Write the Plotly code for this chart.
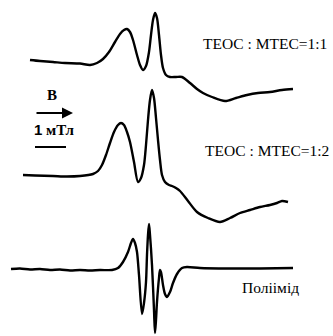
import plotly.graph_objects as go

# EPR spectra: field (a.u., 31 units = 1 mT) and signal (a.u.)
field_1 = [30, 40, 53, 65, 80, 90, 97, 103, 109, 115, 120, 124, 127, 130, 133, 137, 140, 143, 146, 149, 151, 153, 155, 157, 159, 161, 163, 166, 170, 176, 182, 190, 197, 203, 212, 225, 236, 247, 258, 270, 282, 293]
signal_1 = [0, -1, -2, -3, -3.5, -5, -3, 1, 8, 18, 26, 30, 31, 28, 20, 5, -5, -10, -6, 8, 25, 40, 47, 42, 25, 5, -8, -15, -17, -17, -17, -23, -29, -33, -37, -41, -38, -35, -33, -32, -30, -29]

field_2 = [23, 35, 53, 67, 80, 93, 98, 102, 106, 110, 114, 118, 121, 124, 127, 130, 134, 138, 141, 144, 146, 148, 150, 152, 154, 156, 158, 160, 162, 165, 169, 172, 176, 180, 188, 197, 208, 220, 230, 240, 250, 260, 270, 277, 282, 288]
signal_2 = [0, -0.5, -1, -1.5, -1, 1, 4, 10, 20, 32, 43, 50, 52, 50, 43, 33, 13, -7, -3, 10, 30, 55, 75, 85, 77, 57, 35, 15, 0, -7, -10, -11, -13, -16, -26, -37, -43, -47, -43, -38, -35, -32, -30, -28, -26, -27]

field_3 = [11, 20, 30, 40, 50, 60, 70, 80, 90, 100, 112, 118, 123, 128, 131, 133, 135, 137, 139, 142, 144, 146, 147, 148, 149, 150, 152, 154, 155, 156, 157, 159, 160, 161, 163, 165, 167, 170, 173, 177, 182, 187, 200, 230, 260, 293]
signal_3 = [0, 0.5, -0.5, 0, -1, -0.5, -1.5, -1, -1.5, -1, -1, 1, 7, 17, 26, 30, 26, 17, -6, -45, -34, -13, 14, 34, 45, 34, 4, -41, -64, -51, -33, -9, -1, -3, -16, -25, -28, -23, -14, -5, 1, 2, 1, 0.5, 0.5, 1]

baselines = [-60, -175, -269]
labels = ["ТЕОС : МТЕС=1:1", "ТЕОС : МТЕС=1:2", "Поліімід"]
label_pos = [(201, -43), (203, -150), (240, -287)]

fig = go.Figure()
for f, s, b in zip([field_1, field_2, field_3], [signal_1, signal_2, signal_3], baselines):
    fig.add_trace(go.Scatter(x=f, y=[v + b for v in s], mode="lines",
                             line=dict(color="black", width=2.4, shape="spline", smoothing=0.8),
                             hoverinfo="skip", showlegend=False))

for txt, (x, y) in zip(labels, label_pos):
    fig.add_annotation(x=x, y=y, text=txt, showarrow=False, xanchor="left", yanchor="middle",
                       font=dict(family="Liberation Serif", size=15.5, color="black"))

# field direction arrow and 1 mT scale bar
fig.add_annotation(x=52, y=-95, text="<b>B</b>", showarrow=False,
                   font=dict(family="Liberation Serif", size=15, color="black"))
fig.add_annotation(x=73, y=-113, ax=35, ay=-113, axref="x", ayref="y", xref="x", yref="y",
                   text="", showarrow=True, arrowhead=2, arrowsize=1.1, arrowwidth=2, arrowcolor="black")
fig.add_annotation(x=54, y=-129,
                   text="<b><span style=\"font-family:Liberation Sans\">1</span> мТл</b>",
                   showarrow=False, font=dict(family="Liberation Serif", size=15, color="black"))
fig.add_shape(type="line", x0=35, x1=35 + 31, y0=-147, y1=-147, line=dict(color="black", width=2))

fig.update_layout(width=333, height=336, margin=dict(l=0, r=0, t=0, b=0),
                  paper_bgcolor="white", plot_bgcolor="white",
                  xaxis=dict(range=[0, 333], visible=False, fixedrange=True),
                  yaxis=dict(range=[-336, 0], visible=False, fixedrange=True))
fig.write_html("out.html")
